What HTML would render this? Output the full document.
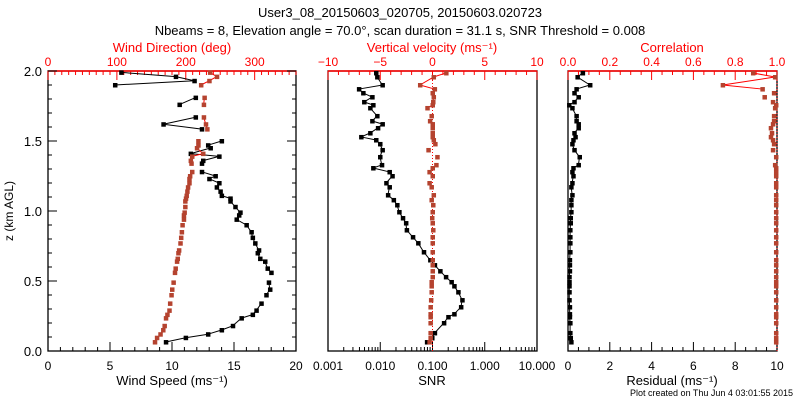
<!DOCTYPE html>
<html><head><meta charset="utf-8"><style>
body{margin:0;background:#fff;width:800px;height:400px;overflow:hidden}
svg text{font-family:"Liberation Sans",sans-serif}
</style></head><body>
<svg id="c" width="800" height="400" xmlns="http://www.w3.org/2000/svg">
<text x="400" y="17" font-size="13" text-anchor="middle">User3_08_20150603_020705, 20150603.020723</text>
<text x="400" y="35" font-size="13" text-anchor="middle">Nbeams = 8, Elevation angle = 70.0°, scan duration = 31.1 s, SNR Threshold = 0.008</text>
<text transform="translate(13,211) rotate(-90)" font-size="12" text-anchor="middle">z (km AGL)</text>
<text x="793" y="396" font-size="9" text-anchor="end">Plot created on Thu Jun  4 03:01:55 2015</text>
</svg>
<script>
// Panel 1 data
const z1 = [0.064,0.095,0.12,0.15,0.18,0.235,0.26,0.29,0.34,0.40,0.44,0.49,0.56,0.59,0.64,0.66,0.70,0.72,0.77,0.81,0.85,0.90,0.94,0.97,0.99,1.03,1.07,1.09,1.11,1.14,1.17,1.20,1.23,1.25,1.28,1.34,1.36,1.39,1.41,1.45,1.47,1.50,1.585,1.62,1.67,1.76,1.81,1.90,1.93,1.96,1.99];
const windSpeed = [9.5,11.1,12.9,14.0,14.9,15.6,16.5,16.8,17.2,17.6,17.9,17.8,18.0,17.7,17.5,17.1,16.9,17.0,16.7,16.5,16.4,16.0,15.2,15.4,15.5,15.1,14.7,14.7,14.0,13.9,13.6,13.8,13.0,13.5,12.4,12.4,12.5,13.8,11.5,13.1,12.9,14.0,12.4,9.3,11.9,10.6,11.9,5.4,11.8,10.3,5.9];
const windDir = [155,158,163,167,169,171,173,176,177,179,180,182,184,185,187,188,189,190,192,193,194,195,197,197,198,199,199,200,201,202,203,205,205,206,209,208,207,209,225,216,218,218,231,229,226,226,227,222,234,245,235];
// Panels 2/3 data
const z2 = [0.064,0.093,0.129,0.2,0.243,0.264,0.314,0.364,0.421,0.464,0.493,0.529,0.571,0.614,0.65,0.707,0.771,0.814,0.864,0.914,0.95,0.993,1.043,1.079,1.114,1.171,1.2,1.25,1.279,1.307,1.329,1.386,1.436,1.479,1.507,1.529,1.557,1.593,1.621,1.643,1.679,1.736,1.757,1.779,1.814,1.843,1.871,1.9,1.957,1.986];
const snr = [0.078,0.098,0.11,0.165,0.2,0.26,0.35,0.37,0.31,0.26,0.23,0.18,0.14,0.11,0.09,0.068,0.053,0.042,0.032,0.031,0.027,0.023,0.021,0.018,0.014,0.015,0.013,0.017,0.015,0.0073,0.0107,0.0099,0.011,0.0099,0.0083,0.0043,0.0064,0.009,0.011,0.007,0.0087,0.0064,0.0073,0.0049,0.007,0.0047,0.0039,0.011,0.0087,0.0083];
const vertVel = [-0.3,-0.2,-0.2,-0.2,-0.2,-0.2,-0.2,-0.15,-0.1,-0.1,-0.1,0,0,0,0,0,0,0,0.05,0,-0.05,0,0.05,-0.1,0.1,-0.1,-0.3,0,-0.3,0,0.35,0.45,-0.4,0.25,0.1,0,0,0,0,-0.25,-0.1,-0.5,0,0.05,0.1,0,0.2,-1.2,0.1,1.3];
const residual = [0.15,0.12,0.1,0.1,0.08,0.08,0.08,0.06,0.06,0.06,0.06,0.06,0.08,0.08,0.08,0.1,0.1,0.1,0.1,0.12,0.12,0.15,0.15,0.15,0.2,0.15,0.2,0.25,0.2,0.25,0.5,0.55,0.3,0.2,0.25,0.35,0.3,0.5,0.5,0.4,0.4,0.2,0.05,0.3,0.5,0.3,0.4,1.05,0.45,0.7];
const correlation = [0.995,0.995,0.995,0.995,0.995,0.995,0.995,0.995,0.995,0.995,0.995,0.995,0.995,0.995,0.995,0.995,0.995,0.995,0.995,0.995,0.995,0.995,0.995,0.995,0.995,0.995,0.995,0.995,0.995,0.995,0.99,0.995,0.98,0.985,0.98,0.97,0.975,0.97,0.98,0.985,0.985,0.99,0.995,0.98,0.94,0.985,0.93,0.74,0.99,0.885];
const yTicks = ["0.0","0.5","1.0","1.5","2.0"];
const speedTicks = ["0","5","10","15","20"];
const dirTicks = ["0","100","200","300"];
const wTicks = ["−10","−5","0","5","10"];
const snrTicks = ["0.001","0.010","0.100","1.000","10.000"];
const corrTicks = ["0.0","0.2","0.4","0.6","0.8","1.0"];
const resTicks = ["0","2","4","6","8","10"];

const svg=document.getElementById('c');
const NS="http://www.w3.org/2000/svg";
const TOP=71,BOT=351;
const RED="#ff0000",BR="#b5432f";
function Y(z){return BOT-(z/2)*(BOT-TOP);}
function lin(a,b,x0,x1){return v=>x0+(v-a)/(b-a)*(x1-x0);}
function el(t,a,p){const e=document.createElementNS(NS,t);for(const k in a)e.setAttribute(k,a[k]);(p||svg).appendChild(e);return e;}
function txt(x,y,s,col,anchor,size){const t=el('text',{x:x,y:y,'font-size':size||12,fill:col||'#000','text-anchor':anchor||'middle'});t.textContent=s;return t;}

const P=[{l:48,r:296},{l:328,r:537},{l:568,r:777}];
P.forEach((p,i)=>{
  const b=el('rect',{x:p.l,y:TOP,width:p.r-p.l,height:BOT-TOP,fill:'none',stroke:'#000','stroke-width':1.3});
  
  
  const tl=el('line',{x1:p.l,x2:p.r,y1:TOP,y2:TOP,stroke:RED,'stroke-width':1.5});
  
  
});
function tick(x,y,len,col){el('line',{x1:x,x2:x,y1:y,y2:y+len,stroke:col,'stroke-width':1});}
function hticks(p,sc,min,max,step,minor,labels,col,top){
  for(let v=min;v<=max+1e-9;v+=minor){const x=sc(v);const major=Math.abs(Math.round(v/step)*step-v)<1e-6;
    tick(x,top?TOP:BOT,(top?1:-1)*(major?9:4),col);}
  labels.forEach((s,k)=>{const t=txt(sc(min+k*step),top?TOP-5:BOT+19,s,col);
    
    });
}
// Panel 1
const sx=lin(0,20,48,296), dx=lin(0,360,48,296);
hticks(P[0],sx,0,20,5,1,speedTicks,'#000',false);
hticks(P[0],dx,0,360,100,10,dirTicks,RED,true);
for(let v=0;v<=2.0001;v+=0.1){const y=Y(v);const m=Math.abs(v*2-Math.round(v*2))<1e-6;const L=m?9:4;
  el('line',{x1:48,x2:48+L,y1:y,y2:y,stroke:'#000'});el('line',{x1:296,x2:296-L,y1:y,y2:y,stroke:'#000'});}
yTicks.forEach((s,k)=>{const t=txt(42,Y(k*0.5)+5,s,'#000','end',13);
  
  });
// Panel 2
const wx=lin(-10,10,328,537);
const lx=v=>328+(Math.log10(v)+3)*(537-328)/4;
hticks(P[1],wx,-10,10,5,1,wTicks,RED,true);
for(let d=-3;d<1;d++){for(let m=1;m<=9;m++){tick(lx(m*Math.pow(10,d)),BOT,m==1?-9:-4,'#000');}}
tick(537,BOT,-9,'#000');
snrTicks.forEach((s,k)=>{const t=txt(lx(Math.pow(10,k-3)),BOT+19,s,'#000');
  
  });
// Panel 3
const cx=lin(0,1,568,777), rx=lin(0,10,568,777);
hticks(P[2],cx,0,1,0.2,0.05,corrTicks,RED,true);
hticks(P[2],rx,0,10,2,0.5,resTicks,'#000',false);
// titles
[[172,52,'Wind Direction (deg)',RED,'wind-direction-title'],[432,52,'Vertical velocity (ms⁻¹)',RED,'vertical-velocity-title'],[672,52,'Correlation',RED,'correlation-title'],
 [172,385,'Wind Speed (ms⁻¹)','#000','wind-speed-title'],[432,385,'SNR','#000','snr-title'],[672,385,'Residual (ms⁻¹)','#000','residual-title']].forEach(a=>{
  const t=txt(a[0],a[1],a[2],a[3],'middle',13);
  
  });
// zero / one dotted lines
el('line',{x1:wx(0),x2:wx(0),y1:TOP,y2:BOT,stroke:RED,'stroke-dasharray':'1,2'});
el('line',{x1:cx(1),x2:cx(1),y1:TOP,y2:BOT,stroke:RED,'stroke-dasharray':'1,2'});
function series(zs,vals,sc,col,name,gapOK,lineCol,lineFrom){
  const g=el('g',{});
  
  
  for(let i=1;i<zs.length;i++){ if(zs[i]-zs[i-1]<gapOK && zs[i-1]>=lineFrom)
    el('line',{x1:sc(vals[i-1]),y1:Y(zs[i-1]),x2:sc(vals[i]),y2:Y(zs[i]),stroke:lineCol,'stroke-width':1},g);}
  zs.forEach((z,i)=>{const r=el('rect',{x:sc(vals[i])-2,y:Y(z)-2,width:4.5,height:4.5,fill:col},g);
    
    });
}
series(z1,windSpeed,sx,'#000','wind-speed-series',0.06,'#000',0);
series(z1,windDir,dx,BR,'wind-direction-series',0.06,RED,1.38);
series(z2,snr,lx,'#000','snr-series',0.1,'#000',0);
series(z2,vertVel,wx,BR,'vertical-velocity-series',0.1,RED,1.7);
series(z2,residual,rx,'#000','residual-series',0.1,'#000',0);
series(z2,correlation,cx,BR,'correlation-series',0.1,RED,1.85);
</script>
</body></html>
